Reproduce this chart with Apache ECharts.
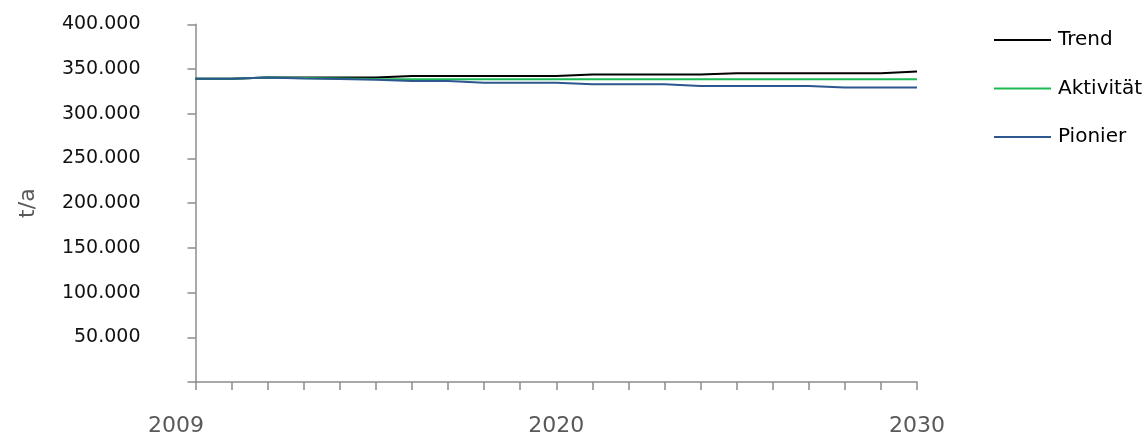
<!DOCTYPE html>
<html>
<head>
<meta charset="utf-8">
<script src="https://cdn.jsdelivr.net/npm/echarts@6/dist/echarts.min.js"></script>
<style>
html,body{margin:0;padding:0;background:#fff;}
#chart{width:1146px;height:443px;}
</style>
</head>
<body>
<div id="chart"></div>
<script>
const categories = ['2009','2011','2012','2013','2014','2015','2016','2017','2018','2019','2020','2021','2022','2023','2024','2025','2026','2027','2028','2029','2030'];
const trend = [339000,339000,340400,340400,340400,340400,342200,342200,342200,342200,342200,344000,344000,344000,344000,345400,345400,345400,345400,345400,347200];
const aktivitaet = [339000,339000,340400,340000,339400,338800,338600,338600,338600,338600,338600,338600,338600,338600,338600,338600,338600,338600,338600,338600,338600];
const pionier = [339000,339000,340400,339500,338800,338000,336700,336600,334500,334500,334500,333000,333000,333000,331100,331100,331100,331100,329300,329300,329300];
const yTicks = [0,50000,100000,150000,200000,250000,300000,350000,400000];
const shownX = ['2009','2020','2030'];

const FONT = 'DejaVu Sans';
const chart = echarts.init(document.getElementById('chart'));
function fmt(v){ return v === 0 ? '' : String(v/1000) + '.000'; }
chart.setOption({
  animation:false,
  grid:{left:195.5,right:229,top:24.3,bottom:61},
  legend:{
    orient:'vertical', left:994, top:28, padding:0, itemWidth:57, itemHeight:2, itemGap:24.5,
    icon:'rect',
    textStyle:{fontFamily:FONT,fontSize:20,lineHeight:24,color:'#000',padding:[0,0,0,2]},
    data:['Trend','Aktivität','Pionier']
  },
  xAxis:{
    type:'category', data:categories, boundaryGap:false,
    axisLine:{lineStyle:{color:'#8c8c8c',width:1.5}},
    axisTick:{show:true,interval:0,length:8,lineStyle:{color:'#8c8c8c',width:1.5}},
    axisLabel:{
      interval:0, margin:33, fontFamily:FONT, fontSize:22, color:'#595959',
      formatter:function(v){
        if(shownX.indexOf(v)<0) return '';
        return v==='2009' ? '{a|'+v+'}' : v;
      },
      rich:{a:{fontFamily:FONT,fontSize:22,color:'#595959',padding:[0,39,16,0]}}
    }
  },
  yAxis:{
    type:'value', min:yTicks[0], max:yTicks[yTicks.length-1], interval:50000,
    name:'t/a', nameLocation:'middle', nameGap:156, nameRotate:90,
    nameTextStyle:{fontFamily:FONT,fontSize:22,color:'#595959'},
    splitLine:{show:false},
    axisLine:{show:true,lineStyle:{color:'#8c8c8c',width:1.5}},
    axisTick:{show:true,length:8,lineStyle:{color:'#8c8c8c',width:1.5}},
    axisLabel:{margin:55,fontFamily:FONT,fontSize:19,color:'#111',formatter:fmt}
  },
  series:[
    {name:'Trend',type:'line',data:trend,symbol:'none',lineStyle:{color:'#000',width:2},itemStyle:{color:'#000'}},
    {name:'Aktivität',type:'line',data:aktivitaet,symbol:'none',lineStyle:{color:'#1db954',width:2},itemStyle:{color:'#1db954'}},
    {name:'Pionier',type:'line',data:pionier,symbol:'none',lineStyle:{color:'#2e5790',width:2},itemStyle:{color:'#2e5790'}}
  ]
});
</script>
</body>
</html>
